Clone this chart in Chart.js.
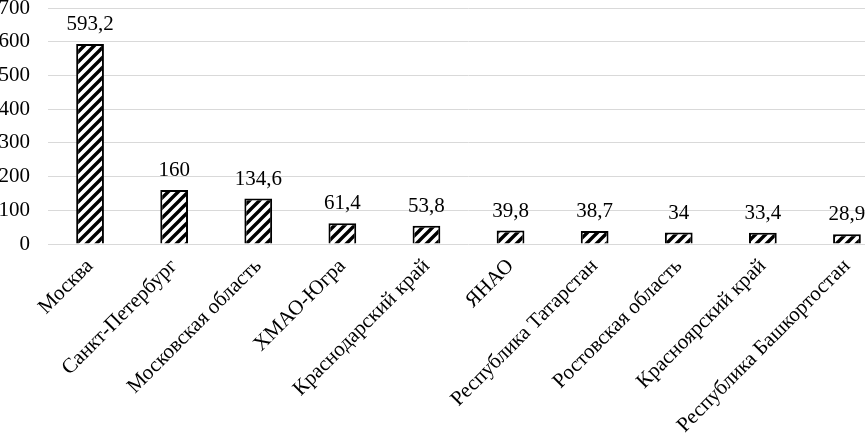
<!DOCTYPE html>
<html>
<head>
<meta charset="utf-8">
<script src="https://cdn.jsdelivr.net/npm/chart.js@4.4.0/dist/chart.umd.min.js"></script>
<style>
  html, body { margin: 0; padding: 0; background: #fff; overflow: hidden; }
  #wrap { width: 865px; height: 436px; overflow: hidden; }
</style>
</head>
<body>
<div id="wrap"><canvas id="regionChart" width="889" height="436"></canvas></div>
<script>
// Regions and values
const regions = [
    "Москва", "Санкт-Петербург", "Московская область", "ХМАО-Югра",
    "Краснодарский край", "ЯНАО", "Республика Татарстан",
    "Ростовская область", "Красноярский край", "Республика Башкортостан"
];
const values = [593.2, 160, 134.6, 61.4, 53.8, 39.8, 38.7, 34, 33.4, 28.9];
const valueLabels = ["593,2", "160", "134,6", "61,4", "53,8", "39,8", "38,7", "34", "33,4", "28,9"];

const FONT = "'Liberation Serif', 'Times New Roman', serif";

// Diagonal hatch pattern
function makeHatch() {
    const size = 10;
    const c = document.createElement("canvas");
    c.width = size;
    c.height = size;
    const g = c.getContext("2d");
    g.fillStyle = "#fff";
    g.fillRect(0, 0, size, size);
    g.strokeStyle = "#000";
    g.lineWidth = 3.4;
    g.beginPath();
    g.moveTo(-2, size + 2); g.lineTo(size + 2, -2);
    g.moveTo(-3, 3); g.lineTo(3, -3);
    g.moveTo(size - 3, size + 3); g.lineTo(size + 3, size - 3);
    g.stroke();
    return g.createPattern(c, "repeat");
}

// Value labels above bars
const valueLabelPlugin = {
    id: "valueLabels",
    afterDatasetsDraw(chart) {
        const ctx = chart.ctx;
        const meta = chart.getDatasetMeta(0);
        ctx.save();
        ctx.font = "21px " + FONT;
        ctx.fillStyle = "#000";
        ctx.textAlign = "center";
        ctx.textBaseline = "alphabetic";
        meta.data.forEach(function (bar, i) {
            ctx.fillText(valueLabels[i], bar.x, bar.y - 14);
        });
        ctx.restore();
    }
};

const ctx = document.getElementById("regionChart").getContext("2d");
new Chart(ctx, {
    type: "bar",
    data: {
        labels: regions,
        datasets: [{
            data: values,
            backgroundColor: makeHatch(),
            borderColor: "#000",
            borderWidth: 2,
            barPercentage: 0.66,
            categoryPercentage: 0.5
        }]
    },
    plugins: [valueLabelPlugin],
    options: {
        responsive: false,
        animation: false,
        layout: { padding: 0 },
        plugins: {
            legend: { display: false },
            tooltip: { enabled: false }
        },
        scales: {
            x: {
                afterFit(scale) {
                    scale.height = 192;
                    scale.paddingLeft = 0;
                    scale.paddingRight = 0;
                },
                grid: { display: false },
                border: { display: false },
                ticks: {
                    color: "#000",
                    font: { family: FONT, size: 21 },
                    minRotation: 45,
                    maxRotation: 45,
                    padding: 2
                }
            },
            y: {
                min: 0,
                max: 700,
                afterFit(scale) {
                    scale.width = 48;
                    scale.paddingTop = 8;
                    scale.paddingBottom = 0;
                },
                grid: { color: "#d9d9d9", lineWidth: 1, drawTicks: false },
                border: { display: false },
                ticks: {
                    stepSize: 100,
                    color: "#000",
                    font: { family: FONT, size: 21 },
                    padding: 18
                }
            }
        }
    }
});
</script>
</body>
</html>
